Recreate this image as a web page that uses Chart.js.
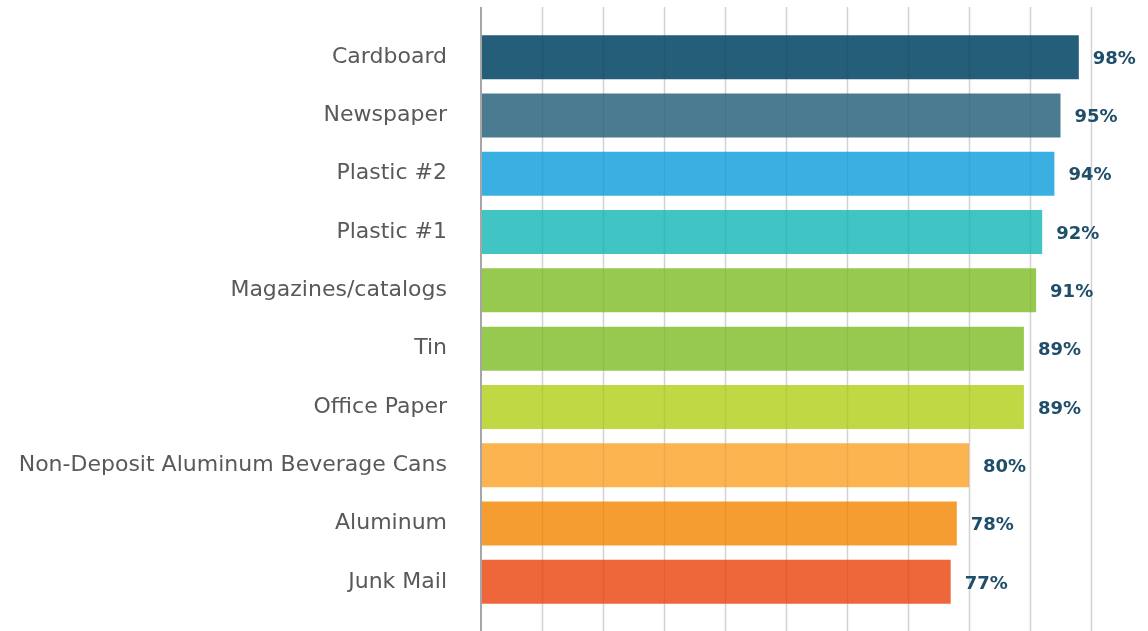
<!DOCTYPE html>
<html>
<head>
<meta charset="utf-8">
<script src="https://cdn.jsdelivr.net/npm/chart.js@4/dist/chart.umd.min.js"></script>
<style>
  html, body { margin: 0; padding: 0; background: #fff; overflow: hidden; }
  canvas { display: block; }
</style>
</head>
<body>
<canvas id="chart" width="1148" height="631"></canvas>
<script>
const categories = ['Cardboard', 'Newspaper', 'Plastic #2', 'Plastic #1', 'Magazines/catalogs',
  'Tin', 'Office Paper', 'Non-Deposit Aluminum Beverage Cans', 'Aluminum', 'Junk Mail'];
const values = [98, 95, 94, 92, 91, 89, 89, 80, 78, 77];
const barColors = ['#255e79', '#4b7b90', '#3ab0e2', '#40c4c4', '#97c94f',
  '#97c94f', '#bfd844', '#fbb44f', '#f59d30', '#ee673a'];
const gridTicks = [0, 10, 20, 30, 40, 50, 60, 70, 80, 90, 100];

(() => {
  const el = document.getElementById('chart');

  // vertical gridlines span the full canvas height, beyond the category band
  const drawGrid = (chart, color) => {
    const { ctx, scales: { x }, height } = chart;
    ctx.save();
    ctx.strokeStyle = color;
    ctx.lineWidth = 1.5;
    gridTicks.slice(1).forEach((v) => {
      const px = Math.round(x.getPixelForValue(v)) + 0.5;
      ctx.beginPath();
      ctx.moveTo(px, 7);
      ctx.lineTo(px, height);
      ctx.stroke();
    });
    ctx.restore();
  };

  const grid = {
    id: 'fullGrid',
    beforeDatasetsDraw(chart) { drawGrid(chart, '#e0e0e0'); },
    afterDatasetsDraw(chart) {
      drawGrid(chart, 'rgba(0,0,0,0.06)'); // faint lines showing through the bars
      const { ctx, scales: { x }, height } = chart;
      const p0 = x.getPixelForValue(0);
      ctx.save();
      ctx.strokeStyle = '#a6a6a6';
      ctx.lineWidth = 2;
      ctx.beginPath();
      ctx.moveTo(p0, 7);
      ctx.lineTo(p0, height);
      ctx.stroke();
      ctx.restore();
    }
  };

  // value labels to the right of each bar
  const valueLabels = {
    id: 'valueLabels',
    afterDatasetsDraw(chart) {
      const { ctx } = chart;
      const meta = chart.getDatasetMeta(0);
      ctx.save();
      ctx.font = 'bold 18px "DejaVu Sans", sans-serif';
      ctx.fillStyle = '#1f4e6a';
      ctx.textAlign = 'left';
      ctx.textBaseline = 'middle';
      meta.data.forEach((bar, i) => {
        ctx.fillText(values[i] + '%', bar.x + 14, bar.y + 2);
      });
      ctx.restore();
    }
  };

  new Chart(el.getContext('2d'), {
    type: 'bar',
    data: {
      labels: categories,
      datasets: [{
        data: values,
        backgroundColor: barColors,
        borderWidth: 0,
        barPercentage: 0.755,
        categoryPercentage: 1
      }]
    },
    options: {
      indexAxis: 'y',
      responsive: false,
      devicePixelRatio: 1,
      animation: false,
      layout: { padding: { top: 28, bottom: 20, right: 57, left: 0 } },
      plugins: { legend: { display: false }, tooltip: { enabled: false } },
      scales: {
        x: {
          min: 0,
          max: 100,
          display: false
        },
        y: {
          grid: { display: false, drawTicks: false },
          border: { display: false },
          ticks: {
            color: '#595959',
            padding: 34,
            font: { family: '"DejaVu Sans", sans-serif', size: 22 }
          },
          afterFit: (s) => {
            s.width = 481;
            s.paddingTop = 0;
            s.paddingBottom = 0;
          }
        }
      }
    },
    plugins: [grid, valueLabels]
  });
})();
</script>
</body>
</html>
